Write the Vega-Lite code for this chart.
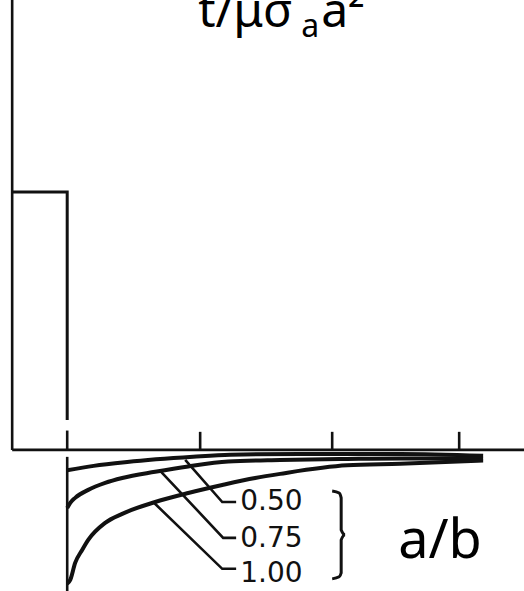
{
  "$schema": "https://vega.github.io/schema/vega-lite/v6.json",
  "width": 524,
  "height": 591,
  "padding": 0,
  "autosize": {"type": "none"},
  "background": "white",
  "config": {"view": {"stroke": null}},
  "datasets": {
    "frame": [
      {"part": "y axis", "x": -0.416, "y": 0, "x2": -0.416, "y2": 1.744},
      {"part": "x axis", "x": -0.416, "y": 0, "x2": 3.453, "y2": 0},
      {"part": "tick", "x": 0, "y": 0.003, "x2": 0, "y2": 0.075},
      {"part": "tick", "x": 1.005, "y": 0, "x2": 1.005, "y2": 0.07},
      {"part": "tick", "x": 2.003, "y": 0, "x2": 2.003, "y2": 0.07},
      {"part": "tick", "x": 2.963, "y": 0, "x2": 2.963, "y2": 0.07},
      {"part": "edge below", "x": 0, "y": -0.027, "x2": 0, "y2": -0.547}
    ],
    "step": [
      {"i": 1, "x": -0.416, "y": 1},
      {"i": 2, "x": 0, "y": 1},
      {"i": 3, "x": 0, "y": 0.116}
    ],
    "curves": [
      {"ab": "0.50", "i": 1, "x": 0, "y": -0.079},
      {"ab": "0.50", "i": 2, "x": 0.2, "y": -0.062},
      {"ab": "0.50", "i": 3, "x": 0.454, "y": -0.047},
      {"ab": "0.50", "i": 4, "x": 0.952, "y": -0.027},
      {"ab": "0.50", "i": 5, "x": 1.232, "y": -0.019},
      {"ab": "0.50", "i": 6, "x": 1.761, "y": -0.0155},
      {"ab": "0.50", "i": 7, "x": 2.517, "y": -0.0155},
      {"ab": "0.50", "i": 8, "x": 3.144, "y": -0.023},
      {"ab": "0.75", "i": 1, "x": 0, "y": -0.225},
      {"ab": "0.75", "i": 2, "x": 0.023, "y": -0.205},
      {"ab": "0.75", "i": 3, "x": 0.06, "y": -0.186},
      {"ab": "0.75", "i": 4, "x": 0.159, "y": -0.155},
      {"ab": "0.75", "i": 5, "x": 0.287, "y": -0.128},
      {"ab": "0.75", "i": 6, "x": 0.416, "y": -0.109},
      {"ab": "0.75", "i": 7, "x": 0.665, "y": -0.085},
      {"ab": "0.75", "i": 8, "x": 0.915, "y": -0.064},
      {"ab": "0.75", "i": 9, "x": 1.217, "y": -0.045},
      {"ab": "0.75", "i": 10, "x": 1.61, "y": -0.039},
      {"ab": "0.75", "i": 11, "x": 2.116, "y": -0.035},
      {"ab": "0.75", "i": 12, "x": 2.517, "y": -0.033},
      {"ab": "0.75", "i": 13, "x": 3.144, "y": -0.033},
      {"ab": "1.00", "i": 1, "x": 0, "y": -0.519},
      {"ab": "1.00", "i": 2, "x": 0.023, "y": -0.504},
      {"ab": "1.00", "i": 3, "x": 0.06, "y": -0.438},
      {"ab": "1.00", "i": 4, "x": 0.113, "y": -0.388},
      {"ab": "1.00", "i": 5, "x": 0.159, "y": -0.349},
      {"ab": "1.00", "i": 6, "x": 0.287, "y": -0.283},
      {"ab": "1.00", "i": 7, "x": 0.416, "y": -0.248},
      {"ab": "1.00", "i": 8, "x": 0.665, "y": -0.202},
      {"ab": "1.00", "i": 9, "x": 0.915, "y": -0.167},
      {"ab": "1.00", "i": 10, "x": 1.172, "y": -0.136},
      {"ab": "1.00", "i": 11, "x": 1.421, "y": -0.109},
      {"ab": "1.00", "i": 12, "x": 1.61, "y": -0.093},
      {"ab": "1.00", "i": 13, "x": 2.116, "y": -0.06},
      {"ab": "1.00", "i": 14, "x": 2.517, "y": -0.054},
      {"ab": "1.00", "i": 15, "x": 3.144, "y": -0.041}
    ],
    "leaders": [
      {"ab": "0.50", "i": 1, "x": 0.892, "y": -0.039},
      {"ab": "0.50", "i": 2, "x": 1.172, "y": -0.202},
      {"ab": "0.50", "i": 3, "x": 1.277, "y": -0.202},
      {"ab": "0.75", "i": 1, "x": 0.703, "y": -0.081},
      {"ab": "0.75", "i": 2, "x": 1.179, "y": -0.341},
      {"ab": "0.75", "i": 3, "x": 1.277, "y": -0.341},
      {"ab": "1.00", "i": 1, "x": 0.65, "y": -0.202},
      {"ab": "1.00", "i": 2, "x": 1.172, "y": -0.461},
      {"ab": "1.00", "i": 3, "x": 1.277, "y": -0.461}
    ],
    "brace": [
      {"i": 1, "x": 2.003, "y": -0.159},
      {"i": 2, "x": 2.056, "y": -0.167},
      {"i": 3, "x": 2.071, "y": -0.186},
      {"i": 4, "x": 2.071, "y": -0.31},
      {"i": 5, "x": 2.101, "y": -0.329},
      {"i": 6, "x": 2.071, "y": -0.349},
      {"i": 7, "x": 2.071, "y": -0.477},
      {"i": 8, "x": 2.056, "y": -0.492},
      {"i": 9, "x": 2.003, "y": -0.5}
    ],
    "labels": [
      {"label": "0.50", "x": 1.308, "y": -0.233},
      {"label": "0.75", "x": 1.308, "y": -0.376},
      {"label": "1.00", "x": 1.308, "y": -0.512}
    ],
    "bigtext": [
      {"label": "t/μσ", "x": 0.99, "y": 1.64},
      {"label": "a²", "x": 1.92, "y": 1.64}
    ],
    "subtext": [
      {"label": "a", "x": 1.769, "y": 1.601}
    ],
    "axisname": [
      {"label": "a/b", "x": 2.502, "y": -0.419}
    ]
  },
  "encoding": {
    "x": {"field": "x", "type": "quantitative", "axis": null, "scale": {"domain": [-0.508, 3.453], "nice": false, "zero": false}},
    "y": {"field": "y", "type": "quantitative", "axis": null, "scale": {"domain": [-0.547, 1.744], "nice": false, "zero": false}}
  },
  "layer": [
    {
      "data": {"name": "frame"},
      "mark": {"type": "rule", "color": "#111", "strokeWidth": 2.6},
      "encoding": {
        "x2": {"field": "x2"},
        "y2": {"field": "y2"}
      }
    },
    {
      "data": {"name": "step"},
      "mark": {"type": "line", "color": "#111", "strokeWidth": 3, "strokeJoin": "miter"},
      "encoding": {"order": {"field": "i", "type": "quantitative"}}
    },
    {
      "data": {"name": "curves"},
      "mark": {"type": "line", "color": "#111", "strokeWidth": 4, "interpolate": "monotone"},
      "encoding": {
        "detail": {"field": "ab", "type": "nominal"},
        "order": {"field": "i", "type": "quantitative"}
      }
    },
    {
      "data": {"name": "leaders"},
      "mark": {"type": "line", "color": "#111", "strokeWidth": 2.6},
      "encoding": {
        "detail": {"field": "ab", "type": "nominal"},
        "order": {"field": "i", "type": "quantitative"}
      }
    },
    {
      "data": {"name": "brace"},
      "mark": {"type": "line", "color": "#111", "strokeWidth": 3, "interpolate": "monotone"},
      "encoding": {"order": {"field": "i", "type": "quantitative"}}
    },
    {
      "data": {"name": "labels"},
      "mark": {"type": "text", "align": "left", "baseline": "alphabetic", "font": "DejaVu Sans", "fontSize": 28, "color": "#111"},
      "encoding": {"text": {"field": "label", "type": "nominal"}}
    },
    {
      "data": {"name": "bigtext"},
      "mark": {"type": "text", "align": "left", "baseline": "alphabetic", "font": "Noto Sans", "fontSize": 48, "color": "#000"},
      "encoding": {"text": {"field": "label", "type": "nominal"}}
    },
    {
      "data": {"name": "subtext"},
      "mark": {"type": "text", "align": "left", "baseline": "alphabetic", "font": "Noto Sans", "fontSize": 32, "color": "#000"},
      "encoding": {"text": {"field": "label", "type": "nominal"}}
    },
    {
      "data": {"name": "axisname"},
      "mark": {"type": "text", "align": "left", "baseline": "alphabetic", "font": "Noto Sans", "fontSize": 54, "color": "#000"},
      "encoding": {"text": {"field": "label", "type": "nominal"}}
    }
  ]
}
